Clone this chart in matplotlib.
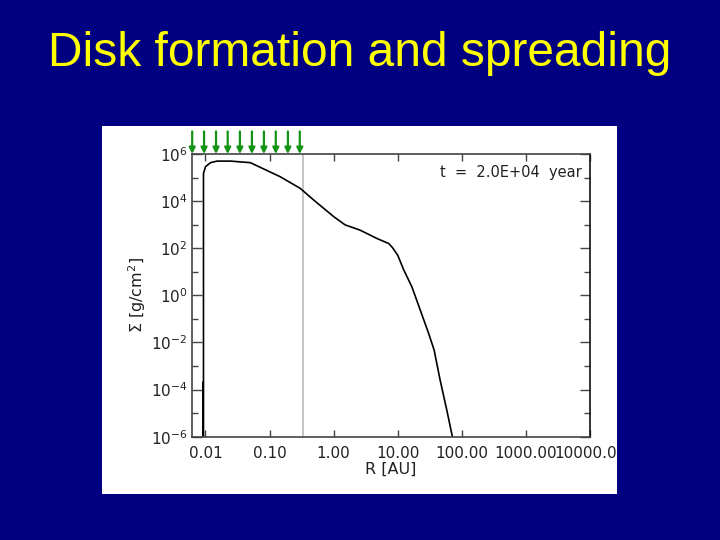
import matplotlib
matplotlib.use('Agg')
import matplotlib.pyplot as plt
from matplotlib.patches import Rectangle
from matplotlib.ticker import FixedLocator, FuncFormatter, NullLocator
import numpy as np

# surface density profile
radius = [0.0091, 0.0091, 0.0093, 0.0093, 0.0100, 0.0120, 0.0151, 0.0245,
          0.050, 0.063, 0.145, 0.30, 0.49, 1.00, 1.51, 2.57, 4.68, 7.24,
          8.3, 10.0, 12.3, 16.6, 22.4, 30.2, 36.9, 45.7, 58.2, 71.1, 79.4]
sigma = [2.0e-4, 1e-7, 1e-7, 1.5e5, 2.9e5, 4.3e5, 5.0e5, 5.0e5,
         4.3e5, 3.2e5, 1.1e5, 3.5e4, 1.1e4, 2.2e3, 980, 590, 263, 158,
         105, 50, 12.6, 2.3, 0.24, 0.025, 4.8e-3, 2.6e-4, 1.35e-5, 1.0e-6, 1e-7]

# green arrows along the top, and the grey marker line
arrow_r = [0.0062, 0.0095, 0.0146, 0.0222, 0.0344, 0.053, 0.0815, 0.125, 0.193, 0.296]
marker_r = 0.33

x_ticks = [0.01, 0.1, 1, 10, 100, 1000, 10000]
x_labels = ['0.01', '0.10', '1.00', '10.00', '100.00', '1000.00', '10000.00']
y_major_exp = [-6, -4, -2, 0, 2, 4, 6]
y_minor_exp = [-5, -3, -1, 1, 3, 5]

navy = '#000080'
fig = plt.figure(figsize=(7.2, 5.4), dpi=100, facecolor=navy)

# white panel the plot sits on
panel_box = (102 / 720, 1 - 494 / 540, 515 / 720, 368 / 540)
fig.patches.append(Rectangle(panel_box[:2], panel_box[2], panel_box[3],
                             transform=fig.transFigure, facecolor='white',
                             edgecolor='none', zorder=-1))

fig.text(0.5, 0.9, 'Disk formation and spreading', color='#ffff00',
         fontsize=34.5, family='Liberation Sans', ha='center', va='center')

ax = fig.add_axes([0.2663, 0.1913, 0.5532, 0.5235])
ax.set_xscale('log')
ax.set_yscale('log')
ax.set_xlim(0.0061, 10000)
ax.set_ylim(1e-6, 1e6)

ax.plot(radius, sigma, color='black', lw=1.2)
ax.axvline(marker_r, color='#c0c0c0', lw=1.3, zorder=1)

for r in arrow_r:
    ax.annotate('', xy=(r, 1.0), xycoords=('data', 'axes fraction'),
                xytext=(r, 1.08), textcoords=('data', 'axes fraction'),
                arrowprops=dict(arrowstyle='-|>', color='#149414', lw=1.6,
                                mutation_scale=9, shrinkA=0, shrinkB=0),
                annotation_clip=False)

ax.xaxis.set_major_locator(FixedLocator(x_ticks))
ax.xaxis.set_minor_locator(NullLocator())
ax.set_xticklabels(x_labels)
ax.yaxis.set_major_locator(FixedLocator([10.0 ** e for e in y_major_exp]))
ax.yaxis.set_minor_locator(FixedLocator([10.0 ** e for e in y_minor_exp]))
ax.yaxis.set_major_formatter(
    FuncFormatter(lambda v, pos: '$10^{%d}$' % int(round(np.log10(v)))))
ax.yaxis.set_minor_formatter(FuncFormatter(lambda v, pos: ''))

ax.tick_params(which='both', direction='in', top=True, right=True,
               width=1, color='#444444', labelcolor='#222222', labelsize=11)
ax.tick_params(axis='x', which='major', length=5, pad=7)
ax.tick_params(axis='y', which='major', length=7, pad=3)
ax.tick_params(axis='y', which='minor', length=4)
for s in ax.spines.values():
    s.set_color('#444444')
    s.set_linewidth(1.2)
ax.spines['right'].set_color('#111111')

ax.set_xlabel('R [AU]', fontsize=11.5, color='#222222', labelpad=0)
ax.set_ylabel(r'$\Sigma$ [g/cm$^2$]', fontsize=11.5, color='#222222', labelpad=2)
ax.text(0.98, 0.935, 't  =  2.0E+04  year', transform=ax.transAxes,
        ha='right', va='center', fontsize=10.5, color='#222222')

# hide the part of the last tick label that runs past the white panel
fig.patches.append(Rectangle((617 / 720, panel_box[1]), 1 - 617 / 720, panel_box[3],
                             transform=fig.transFigure, facecolor=navy,
                             edgecolor='none', zorder=10))

fig.savefig('out.png', dpi=100, facecolor=navy)
